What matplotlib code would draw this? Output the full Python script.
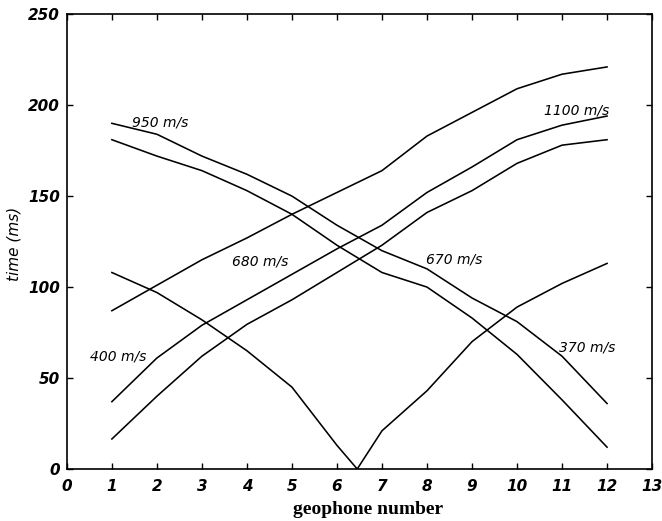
import matplotlib
matplotlib.use("Agg")
import matplotlib.pyplot as plt

# geophone positions
geophones = [1, 2, 3, 4, 5, 6, 7, 8, 9, 10, 11, 12]
v_x = [1, 2, 3, 4, 5, 6, 6.45, 7, 8, 9, 10, 11, 12]

# travel times (ms)
top_up = [87, 101, 115, 127, 140, 152, 164, 183, 196, 209, 217, 221]
mid_up = [37, 61, 79, 93, 107, 121, 134, 152, 166, 181, 189, 194]
low_up = [16.5, 40, 62, 79.5, 93, 108, 123, 141, 153, 168, 178, 181]
top_down = [190, 184, 172, 162, 150, 134, 120, 110, 94, 81, 62, 36]
low_down = [181, 172, 164, 153, 140, 123, 108, 100, 83, 63, 38, 12]
v_line = [108, 97, 82, 65, 45, 13, 0, 21, 43, 70, 89, 102, 113]

label_texts = ["950 m/s", "680 m/s", "1100 m/s", "670 m/s", "400 m/s", "370 m/s"]
label_x = [1.44, 3.66, 10.6, 7.98, 0.51, 10.93]
label_y = [190.5, 114, 197, 115, 62, 67]

x_ticks = list(range(0, 14))
y_ticks = [0, 50, 100, 150, 200, 250]

fig = plt.figure(figsize=(6.62, 5.21), dpi=100)
ax = fig.add_axes([0.101, 0.0998, 0.884, 0.873])

lw = 1.15
for ys in (top_up, mid_up, low_up, top_down, low_down):
    ax.plot(geophones, ys, color="black", lw=lw)
ax.plot(v_x, v_line, color="black", lw=lw)

for t, x, y in zip(label_texts, label_x, label_y):
    ax.text(x, y, t, fontsize=10, style="italic", family="DejaVu Sans",
            ha="left", va="center", color="black")

ax.set_xlim(0, 13)
ax.set_ylim(0, 250)
ax.set_xticks(x_ticks)
ax.set_yticks(y_ticks)
ax.tick_params(axis="both", direction="in", length=4, width=1,
               top=True, right=True, labelsize=11)
ax.tick_params(axis="x", pad=7)
ax.tick_params(axis="y", pad=5)
for lab in ax.get_xticklabels() + ax.get_yticklabels():
    lab.set_fontweight("bold")
    lab.set_fontstyle("italic")
    lab.set_family("DejaVu Sans")

for s in ax.spines.values():
    s.set_linewidth(1.2)

ax.set_xlabel("geophone number", family="Liberation Serif", fontweight="bold",
              fontsize=14)
ax.xaxis.set_label_coords(0.514, -0.07)
ax.set_ylabel("time (ms)", family="DejaVu Sans", style="italic", fontsize=11)
ax.yaxis.set_label_coords(-0.077, 0.495)

fig.savefig("out.png", dpi=100)
